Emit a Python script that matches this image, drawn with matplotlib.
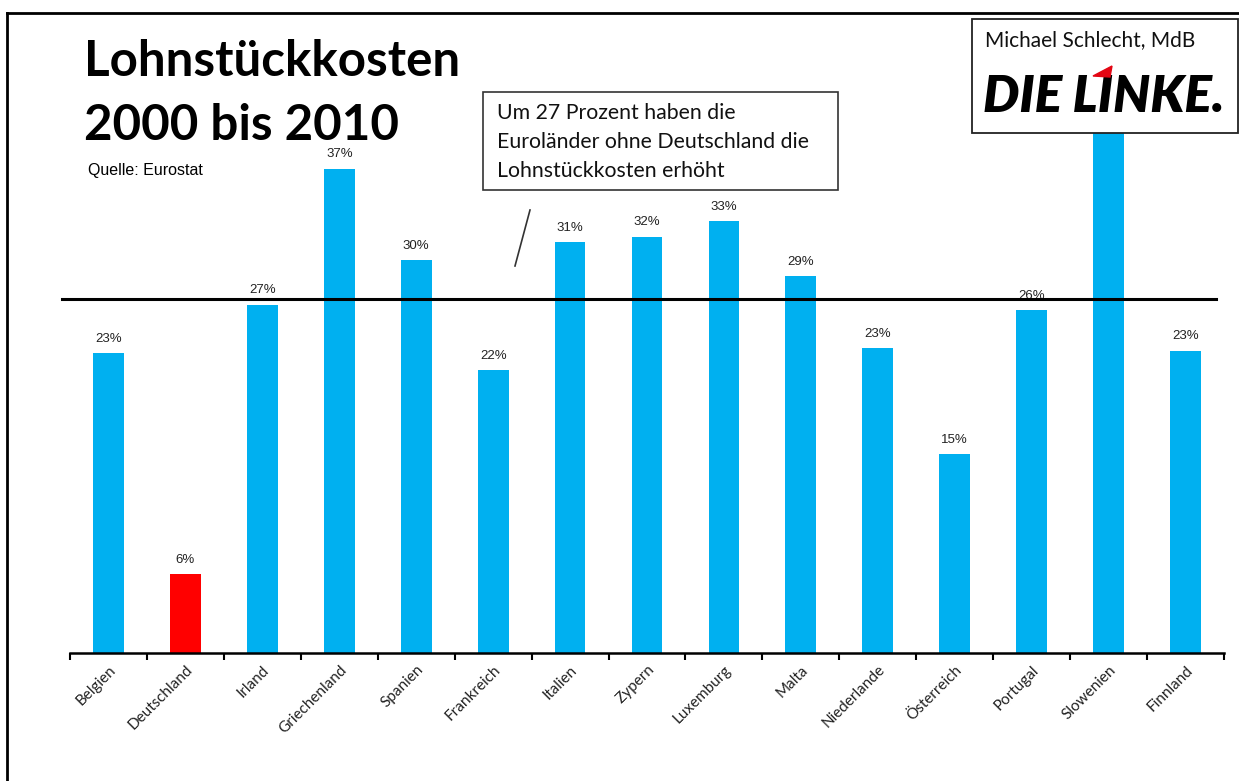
import numpy as np
import matplotlib
matplotlib.use("Agg")
import matplotlib.pyplot as plt
from matplotlib.lines import Line2D
from matplotlib.patches import Rectangle, Polygon

# data (percent change 2000-2010)
laender = ["Belgien", "Deutschland", "Irland", "Griechenland", "Spanien",
           "Frankreich", "Italien", "Zypern", "Luxemburg", "Malta",
           "Niederlande", "Österreich", "Portugal", "Slowenien", "Finnland"]
werte = [22.9, 6.0, 26.6, 37.0, 30.0, 21.6, 31.4, 31.8, 33.0, 28.8,
         23.3, 15.2, 26.2, 45.0, 23.1]
# Slowenien's label is hidden behind the logo box in the original
labels = ["23%", "6%", "27%", "37%", "30%", "22%", "31%", "32%", "33%", "29%",
          "23%", "15%", "26%", "", "23%"]
durchschnitt = 27  # Euroländer ohne Deutschland

W, H = 1239, 781
fig = plt.figure(figsize=(W / 100, H / 100), dpi=100)

def fx(px):
    return px / W

def fy(py):
    return 1 - py / H

# plot area
ax = fig.add_axes([fx(70), fy(653), fx(1224) - fx(70), fy(14) - fy(653)])
x = np.arange(len(laender))
farben = ["#FF0000" if l == "Deutschland" else "#00B0F0" for l in laender]
ax.bar(x, werte, width=0.4, color=farben, zorder=2)
ax.set_xlim(-0.5, len(laender) - 0.5)
ax.set_ylim(0, 48.8)

for xi, v, lab in zip(x, werte, labels):
    if not lab:
        continue
    ax.annotate(lab, (xi, v), xytext=(0, 6), textcoords="offset points",
                ha="center", va="bottom", fontsize=9.5,
                family="Liberation Sans", color="#222222")

# average line
ax.plot([-0.6, len(laender) - 0.6], [durchschnitt, durchschnitt],
        color="black", lw=2.2, clip_on=False, zorder=3)

for s in ["left", "right", "top"]:
    ax.spines[s].set_visible(False)
ax.spines["bottom"].set_linewidth(1.8)
ax.set_yticks([])
ax.set_xticks(np.arange(-0.5, len(laender), 1.0), minor=True)
ax.set_xticks(x)
ax.set_xticklabels(laender, rotation=45, ha="right", rotation_mode="anchor",
                   fontsize=11, family="Lato", color="#222222")
ax.tick_params(axis="x", which="major", length=0, pad=7)
ax.tick_params(axis="x", which="minor", length=5, width=1.5, direction="out")

# title and source
fig.text(fx(84), fy(62), "Lohnstückkosten", fontsize=35.5, fontweight="bold",
         family="Lato", va="center", ha="left")
fig.text(fx(84), fy(125), "2000 bis 2010", fontsize=35.5, fontweight="bold",
         family="Lato", va="center", ha="left")
fig.text(fx(88), fy(171), "Quelle: Eurostat", fontsize=11.5,
         family="Liberation Sans", va="center", ha="left")

# callout box
fig.add_artist(Rectangle((fx(483), fy(190)), fx(838) - fx(483), fy(92) - fy(190),
                         transform=fig.transFigure, facecolor="white",
                         edgecolor="#333333", lw=1.2, zorder=5))
fig.text(fx(497), fy(142),
         "Um 27 Prozent haben die\nEuroländer ohne Deutschland die\nLohnstückkosten erhöht",
         fontsize=15.3, family="Lato", va="center", ha="left",
         linespacing=1.55, color="#111111", zorder=6)
fig.add_artist(Line2D([fx(530), fx(515)], [fy(210), fy(266)],
                      transform=fig.transFigure, color="#333333", lw=1.2))

# logo box
fig.add_artist(Rectangle((fx(972), fy(133)), fx(1238) - fx(972), fy(19) - fy(133),
                         transform=fig.transFigure, facecolor="white",
                         edgecolor="#222222", lw=1.3, zorder=5))
fig.text(fx(985), fy(40), "Michael Schlecht, MdB", fontsize=15, family="Lato",
         va="center", ha="left", color="#111111", zorder=6)
fig.text(fx(1104), fy(97), "DIE LINKE.", fontsize=37, fontweight="heavy",
         style="italic", family="Lato", va="center", ha="center",
         color="black", zorder=6)
fig.add_artist(Polygon([[fx(1093), fy(76)], [fx(1112), fy(66)], [fx(1110), fy(77)]],
                       transform=fig.transFigure, color="#E30613", zorder=7))

# outer frame
fig.add_artist(Line2D([fx(7), fx(1239)], [fy(13), fy(13)],
                      transform=fig.transFigure, color="black", lw=2))
fig.add_artist(Line2D([fx(7), fx(7)], [fy(13), fy(781)],
                      transform=fig.transFigure, color="black", lw=2))

fig.savefig("out.png", dpi=100)
